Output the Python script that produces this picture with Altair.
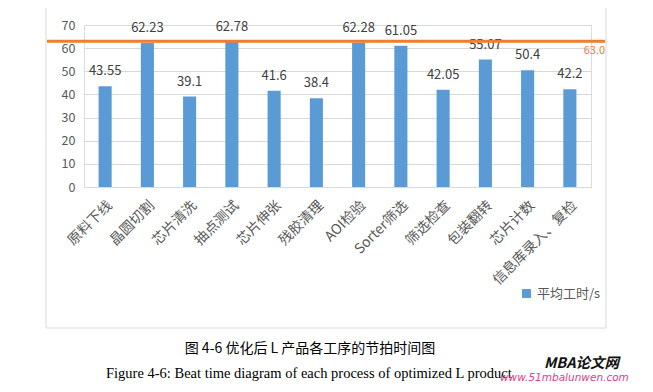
import altair as alt
import pandas as pd

categories = ["原料下线", "晶圆切割", "芯片清洗", "抽点测试", "芯片伸张", "残胶清理",
              "AOI检验", "Sorter筛选", "筛选检查", "包装翻转", "芯片计数", "信息库录入、复检"]
values = [43.55, 62.23, 39.1, 62.78, 41.6, 38.4, 62.28, 61.05, 42.05, 55.07, 50.4, 42.2]
series_name = "平均工时/s"
takt = 63.0
y_ticks = [0, 10, 20, 30, 40, 50, 60, 70]

df = pd.DataFrame({"工序": categories, "值": values, "系列": [series_name] * len(categories)})

CJK = "Noto Sans CJK SC"
BLUE = "#5B9BD5"
ORANGE = "#ED7D31"

x_scale = alt.Scale(paddingInner=0.69, paddingOuter=0.345)
x_axis = alt.Axis(labelAngle=-45, labelFont=CJK, labelFontSize=14,
                  labelColor="#595959", ticks=False, domainColor="#d9d9d9",
                  labelPadding=11, labelOverlap=False, labelLimit=300)
y_scale = alt.Scale(domain=[0, 70], nice=False)
y_axis = alt.Axis(values=y_ticks, grid=True, labelOverlap=False, tickCount=8,
                  gridColor="#d9d9d9", domain=False, ticks=False,
                  labelFont=CJK, labelFontSize=12.5, labelColor="#595959",
                  labelPadding=9)

frame = alt.Chart(pd.DataFrame({"a": [0]})).mark_rect(
    fill=None, stroke="#d9d9d9", strokeWidth=1
).encode(x=alt.value(-38), x2=alt.value(522), y=alt.value(-22), y2=alt.value(303))

bars = alt.Chart(df).mark_bar(color=BLUE).encode(
    x=alt.X("工序:N", sort=categories, title=None, scale=x_scale, axis=x_axis),
    y=alt.Y("值:Q", title=None, scale=y_scale, axis=y_axis),
    color=alt.Color("系列:N", scale=alt.Scale(domain=[series_name], range=[BLUE]),
                    legend=alt.Legend(title=None, orient="none", legendX=436, legendY=262,
                                      symbolType="square", symbolSize=80,
                                      labelFont=CJK, labelFontSize=13,
                                      labelColor="#595959"))
)

labels = alt.Chart(df).mark_text(
    baseline="bottom", dy=-8, font=CJK, fontSize=13, color="#404040"
).encode(
    x=alt.X("工序:N", sort=categories, title=None, scale=x_scale, axis=x_axis),
    y=alt.Y("值:Q", title=None, scale=y_scale, axis=y_axis),
    text=alt.Text("值:Q"))

takt_df = pd.DataFrame({"t": [takt], "lbl": ["63.0"]})
rule = alt.Chart(takt_df).mark_rule(color=ORANGE, strokeWidth=3).encode(
    y=alt.Y("t:Q", title=None, scale=y_scale, axis=y_axis),
    x=alt.value(-37), x2=alt.value(521))
takt_label = alt.Chart(takt_df).mark_text(
    align="right", baseline="top", dy=4, font=CJK, fontSize=11, color=ORANGE
).encode(y=alt.Y("t:Q", title=None, scale=y_scale, axis=y_axis),
         x=alt.value(521), text="lbl:N")

cap_df = pd.DataFrame({"c": [0]})
cap_cn = alt.Chart(cap_df).mark_text(
    font="Noto Sans CJK SC", fontSize=14, color="#000000", align="center"
).encode(x=alt.value(226), y=alt.value(324), text=alt.value("图 4-6  优化后 L 产品各工序的节拍时间图"))
cap_en = alt.Chart(cap_df).mark_text(
    font="Liberation Serif", fontSize=14.5, color="#000000", align="left"
).encode(x=alt.value(22), y=alt.value(349),
         text=alt.value("Figure 4-6: Beat time diagram of each process of optimized L product"))
wm1 = alt.Chart(cap_df).mark_text(
    font="Noto Sans CJK SC", fontSize=14.5, fontWeight="bold", fontStyle="italic",
    color="#111111", align="left"
).encode(x=alt.value(460), y=alt.value(339), text=alt.value("MBA论文网"))
wm2 = alt.Chart(cap_df).mark_text(
    font="DejaVu Sans", fontSize=10.5, fontStyle="italic", color="#e0408a", align="left"
).encode(x=alt.value(416), y=alt.value(353), text=alt.value("www.51mbalunwen.com"))

chart = alt.layer(frame, bars, labels, rule, takt_label, cap_cn, cap_en, wm1, wm2).properties(
    width=507, height=162,
    autosize=alt.AutoSizeParams(type="none"),
    padding={"left": 76, "top": 17, "right": 54, "bottom": 197}
).configure_view(stroke=None).configure(background="white")

chart.save("out.html", embed_options={"renderer": "svg", "actions": False})
